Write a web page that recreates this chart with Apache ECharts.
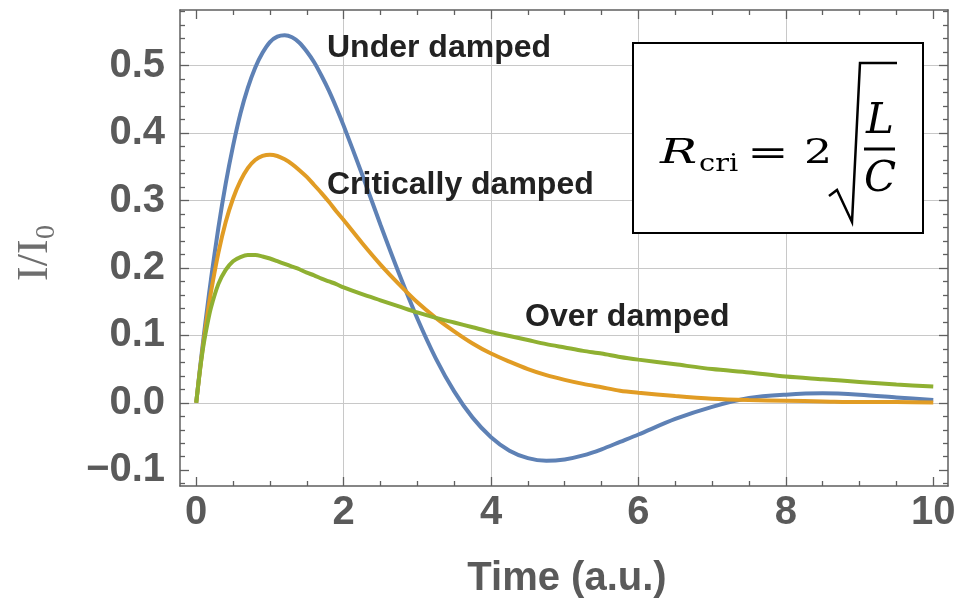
<!DOCTYPE html>
<html><head><meta charset="utf-8">
<script src="https://cdn.jsdelivr.net/npm/echarts@6/dist/echarts.min.js"></script>
<style>html,body{margin:0;padding:0;background:#fff;} #c{width:965px;height:607px;}</style>
</head><body><div id="c"></div>
<script>
// ---- data ----
const time = [0,0.05,0.1,0.15,0.2,0.3,0.4,0.5,0.6,0.7,0.8,0.9,1.0,1.1,1.2,1.3,1.4,1.5,1.6,1.7,1.8,1.9,2.0,2.25,2.5,2.75,3.0,3.25,3.5,3.75,4.0,4.25,4.5,4.75,5.0,5.25,5.5,5.75,6.0,6.5,7.0,7.5,8.0,8.5,9.0,9.5,10.0];
const underDamped = [0,0.050,0.097,0.141,0.183,0.259,0.325,0.381,0.429,0.467,0.497,0.519,0.535,0.543,0.545,0.542,0.534,0.521,0.505,0.485,0.463,0.438,0.411,0.339,0.264,0.192,0.125,0.066,0.017,-0.022,-0.051,-0.071,-0.082,-0.086,-0.084,-0.078,-0.069,-0.058,-0.047,-0.024,-0.006,0.007,0.012,0.014,0.012,0.008,0.004];
const criticallyDamped = [0,0.048,0.091,0.129,0.164,0.222,0.268,0.303,0.329,0.348,0.360,0.366,0.368,0.366,0.361,0.354,0.345,0.335,0.323,0.311,0.298,0.284,0.271,0.237,0.205,0.176,0.149,0.126,0.106,0.088,0.073,0.061,0.050,0.041,0.034,0.028,0.023,0.018,0.015,0.010,0.006,0.004,0.003,0.002,0.001,0.001,0.0005];
const overDamped = [0,0.047,0.086,0.116,0.141,0.176,0.197,0.210,0.216,0.219,0.219,0.217,0.214,0.210,0.206,0.202,0.198,0.193,0.189,0.184,0.180,0.176,0.171,0.161,0.152,0.143,0.134,0.126,0.119,0.112,0.105,0.099,0.093,0.087,0.082,0.077,0.073,0.068,0.064,0.057,0.050,0.045,0.039,0.035,0.031,0.027,0.024];
const seriesNames = ['Under damped','Critically damped','Over damped'];

const xMajorTicks = [0,2,4,6,8,10];
const xTickLabels = ['0','2','4','6','8','10'];
const xMinorTicks = [0.5,1,1.5,2.5,3,3.5,4.5,5,5.5,6.5,7,7.5,8.5,9,9.5];
const xGridLines = [2,4,6,8];
const yMajorTicks = [-0.1,0,0.1,0.2,0.3,0.4,0.5];
const yTickLabels = ['\u22120.1','0.0','0.1','0.2','0.3','0.4','0.5'];
const yMinorTicks = [-0.12,-0.08,-0.06,-0.04,-0.02,0.02,0.04,0.06,0.08,0.12,0.14,0.16,0.18,0.22,0.24,0.26,0.28,0.32,0.34,0.36,0.38,0.42,0.44,0.46,0.48,0.52,0.54,0.56,0.58];
const yGridLines = [0,0.1,0.2,0.3,0.4,0.5];

// ---- layout / style ----
const XMIN = -0.22, XMAX = 10.2, YMIN = -0.1234, YMAX = 0.5825;
const FRAME = '#5f5f5f', GRID = '#c8c8c8', LABEL = '#5a5a5a';
const COLORS = ['#5E81B5', '#E19C24', '#8FB032'];
const SANS = '"Liberation Sans", Arial, sans-serif';
const SERIF = '"DejaVu Serif", serif';

function pick(vals, labels, v) {
  for (let i = 0; i < vals.length; i++) if (Math.abs(vals[i] - v) < 1e-6) return labels[i];
  return '';
}

function axis(kind, pos, ticks, len, opt) {
  opt = opt || {};
  const isX = kind === 'x';
  return {
    type: 'value', gridIndex: 0, position: pos,
    min: isX ? XMIN : YMIN, max: isX ? XMAX : YMAX,
    silent: true,
    axisLine: { show: !!opt.line, onZero: false, lineStyle: { color: FRAME, width: 1.5 } },
    axisTick: { show: len > 0, inside: true, length: len, customValues: ticks, lineStyle: { color: FRAME, width: 1.3 } },
    axisLabel: opt.label || { show: false },
    splitLine: { show: !!opt.split, lineStyle: { color: GRID, width: 1 } }
  };
}

const xLabel = { show: true, customValues: xMajorTicks, margin: 7, formatter: v => pick(xMajorTicks, xTickLabels, v),
  fontFamily: SANS, fontWeight: 'bold', fontSize: 40, color: LABEL };
const yLabel = { show: true, customValues: yMajorTicks, margin: 15, formatter: v => pick(yMajorTicks, yTickLabels, v),
  fontFamily: SANS, fontWeight: 'bold', fontSize: 40, color: LABEL };

const chart = echarts.init(document.getElementById('c'), null, { renderer: 'canvas', width: 965, height: 607 });

const dataSets = [underDamped, criticallyDamped, overDamped];

chart.setOption({
  backgroundColor: '#ffffff',
  animation: false,
  grid: { left: 180, top: 10, width: 768, height: 476, containLabel: false, outerBoundsMode: 'none' },
  xAxis: [
    axis('x', 'bottom', xGridLines, 0, { split: true }),
    axis('x', 'bottom', xMajorTicks, 9, { line: true, label: xLabel }),
    axis('x', 'bottom', xMinorTicks, 5),
    axis('x', 'top', xMajorTicks, 9, { line: true }),
    axis('x', 'top', xMinorTicks, 5)
  ],
  yAxis: [
    axis('y', 'left', yGridLines, 0, { split: true }),
    axis('y', 'left', yMajorTicks, 9, { line: true, label: yLabel }),
    axis('y', 'left', yMinorTicks, 5),
    axis('y', 'right', yMajorTicks, 9, { line: true }),
    axis('y', 'right', yMinorTicks, 5)
  ],
  series: dataSets.map((arr, k) => ({
    name: seriesNames[k],
    type: 'line',
    xAxisIndex: 1, yAxisIndex: 1,
    data: time.map((t, i) => [t, arr[i]]),
    smooth: 0.3,
    showSymbol: false,
    clip: true,
    lineStyle: { color: COLORS[k], width: 4 },
    z: 3 + k
  })),
  graphic: [
    { type: 'text', x: 327, y: 48, z: 50, style: { text: seriesNames[0], font: 'bold 32px ' + SANS, fill: '#222', align: 'left', verticalAlign: 'middle' } },
    { type: 'text', x: 327, y: 185, z: 50, style: { text: seriesNames[1], font: 'bold 32px ' + SANS, fill: '#222', align: 'left', verticalAlign: 'middle' } },
    { type: 'text', x: 525, y: 317, z: 50, style: { text: seriesNames[2], font: 'bold 32px ' + SANS, fill: '#222', align: 'left', verticalAlign: 'middle' } },
    { type: 'text', x: 567, y: 579, z: 50, style: { text: 'Time (a.u.)', font: 'bold 40px ' + SANS, fill: LABEL, align: 'center', verticalAlign: 'middle' } },
    { type: 'text', x: 35, y: 281, rotation: Math.PI / 2, z: 50, style: { text: 'I/I', font: '44px "Liberation Serif", serif', fill: '#6e6e6e', align: 'left', verticalAlign: 'middle' } },
    { type: 'text', x: 47, y: 239, rotation: Math.PI / 2, z: 50, style: { text: '0', font: '28px "Liberation Serif", serif', fill: '#6e6e6e', align: 'left', verticalAlign: 'middle' } },
    // formula box
    { type: 'rect', z: 60, shape: { x: 633, y: 43, width: 290, height: 190 }, style: { fill: '#fff', stroke: '#000', lineWidth: 2 } },
    { type: 'text', x: 660, y: 154, scaleX: 1.45, z: 61, style: { text: 'R', font: 'italic 34px ' + SERIF, fill: '#000', align: 'left', verticalAlign: 'middle' } },
    { type: 'text', x: 699, y: 165, scaleX: 1.2, z: 61, style: { text: 'cri', font: '24px ' + SERIF, fill: '#000', align: 'left', verticalAlign: 'middle' } },
    { type: 'text', x: 768, y: 155, scaleX: 1.45, z: 61, style: { text: '=', font: '34px ' + SERIF, fill: '#000', align: 'center', verticalAlign: 'middle' } },
    { type: 'text', x: 818, y: 154, scaleX: 1.3, z: 61, style: { text: '2', font: '34px ' + SERIF, fill: '#000', align: 'center', verticalAlign: 'middle' } },
    { type: 'polyline', z: 61, shape: { points: [[829, 196], [837, 190], [852, 222], [860, 63], [897, 63]] }, style: { stroke: '#000', lineWidth: 2.5, fill: null } },
    { type: 'rect', z: 61, shape: { x: 864, y: 147.5, width: 31, height: 3 }, style: { fill: '#000' } },
    { type: 'text', x: 880, y: 122, z: 61, style: { text: 'L', font: 'italic 42px ' + SERIF, fill: '#000', align: 'center', verticalAlign: 'middle' } },
    { type: 'text', x: 880, y: 180, z: 61, style: { text: 'C', font: 'italic 42px ' + SERIF, fill: '#000', align: 'center', verticalAlign: 'middle' } }
  ]
});
</script>
</body></html>
